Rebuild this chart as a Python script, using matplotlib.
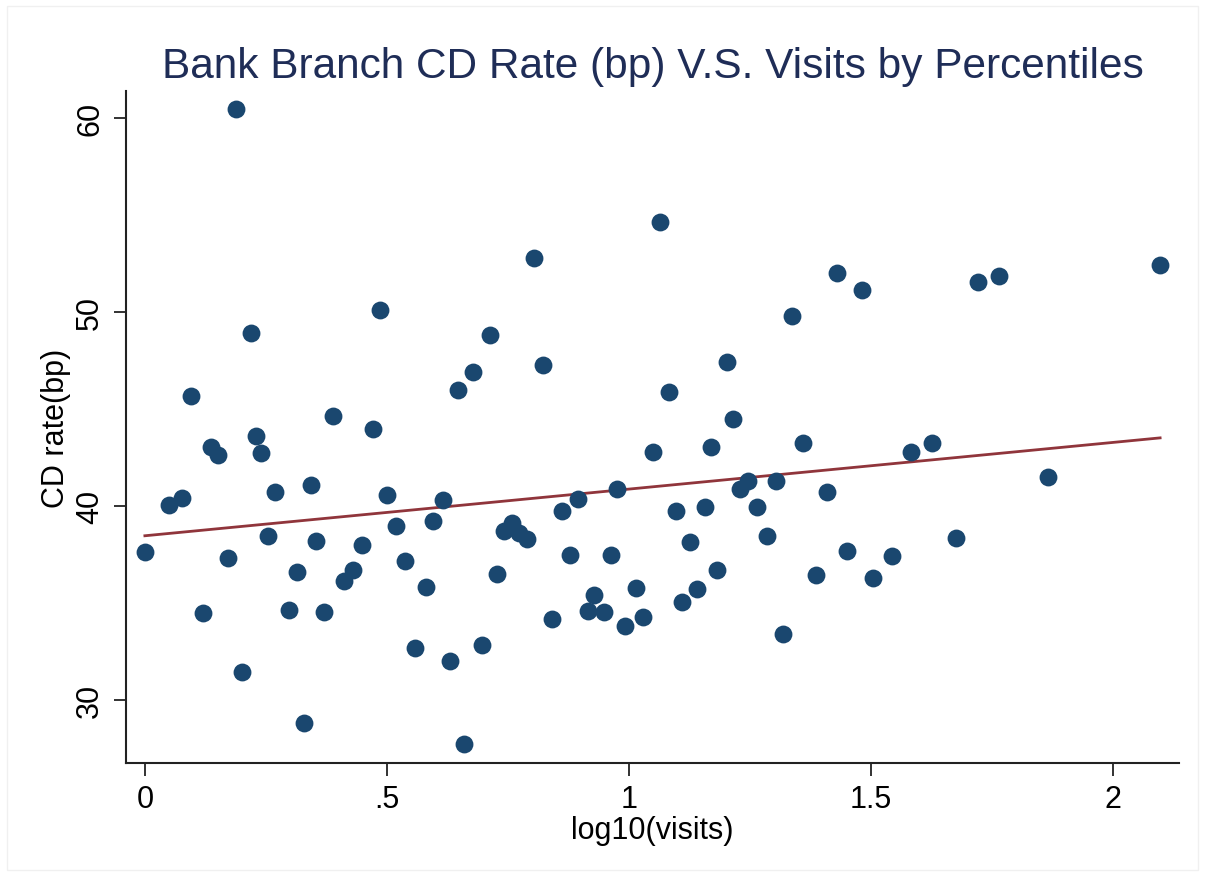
import numpy as np
import matplotlib
matplotlib.use("Agg")
import matplotlib.pyplot as plt
from matplotlib.patches import Rectangle

plt.rcParams['font.family'] = ['Liberation Sans', 'DejaVu Sans']

# percentile bins: mean log10(visits) and mean CD rate (bp)
log_visits = [
    0.000, 0.050, 0.076, 0.095, 0.120, 0.136, 0.151, 0.171, 0.188, 0.200,
    0.219, 0.229, 0.240, 0.254, 0.269, 0.298, 0.314, 0.329, 0.343, 0.353,
    0.370, 0.388, 0.411, 0.430, 0.448, 0.471, 0.486, 0.500, 0.519, 0.537,
    0.558, 0.581, 0.595, 0.616, 0.630, 0.647, 0.659, 0.678, 0.696, 0.713,
    0.727, 0.742, 0.758, 0.773, 0.789, 0.804, 0.822, 0.841, 0.862, 0.878,
    0.895, 0.915, 0.928, 0.948, 0.963, 0.975, 0.992, 1.014, 1.029, 1.050,
    1.064, 1.083, 1.097, 1.110, 1.126, 1.140, 1.157, 1.169, 1.182, 1.202,
    1.215, 1.229, 1.246, 1.264, 1.285, 1.304, 1.318, 1.337, 1.360, 1.386,
    1.409, 1.430, 1.450, 1.481, 1.504, 1.543, 1.583, 1.626, 1.676, 1.721,
    1.764, 1.866, 2.097,
]
cd_rate = [
    37.63, 40.06, 40.42, 45.69, 34.49, 43.06, 42.64, 37.33, 60.48, 31.45,
    48.93, 43.61, 42.74, 38.46, 40.73, 34.64, 36.60, 28.82, 41.09, 38.20,
    34.54, 44.65, 36.14, 36.70, 37.99, 43.98, 50.13, 40.57, 38.97, 37.17,
    32.69, 35.83, 39.23, 40.31, 32.02, 46.00, 27.73, 46.92, 32.84, 48.82,
    36.50, 38.72, 39.13, 38.61, 38.30, 52.80, 47.28, 34.18, 39.75, 37.48,
    40.37, 34.59, 35.42, 34.54, 37.48, 40.89, 33.82, 35.78, 34.28, 42.79,
    54.65, 45.88, 39.75, 35.06, 38.15, 35.73, 39.95, 43.06, 36.70, 47.43,
    44.49, 40.89, 41.30, 39.95, 38.46, 41.30, 33.41, 49.80, 43.26, 36.45,
    40.73, 52.02, 37.68, 51.14, 36.29, 37.43, 42.79, 43.26, 38.35, 51.56,
    51.87, 41.50, 52.44,
]

x_ticks = [0, 0.5, 1, 1.5, 2]
x_ticklabels = ["0", ".5", "1", "1.5", "2"]
y_ticks = [30, 40, 50, 60]

x = np.array(log_visits)
y = np.array(cd_rate)

fig = plt.figure(figsize=(12.05, 8.78), dpi=100)
fig.patch.set_facecolor("white")
# thin light frame around the graph region
fig.add_artist(Rectangle((7 / 1205, 0.008), 1 - 14 / 1205, 1 - 7 / 878 - 0.008,
                         transform=fig.transFigure, fill=False,
                         edgecolor="#f0f0f0", linewidth=1))

ax = fig.add_axes([126 / 1205, 1 - 764 / 878, (1179 - 126) / 1205, (764 - 92) / 878])

ax.scatter(x, y, s=165, color="#1a476f", linewidths=0, zorder=3)

# linear fit over the observed range
b, a = np.polyfit(x, y, 1)
xs = np.array([x.min(), x.max()])
ax.plot(xs, a + b * xs, color="#90353b", linewidth=2.0, zorder=2)

ax.set_xlim(-0.039, 2.136)
ax.set_ylim(26.75, 61.41)
ax.set_xticks(x_ticks)
ax.set_xticklabels(x_ticklabels)
ax.set_yticks(y_ticks)
ax.set_yticklabels([str(t) for t in y_ticks], rotation=90, va="center")

for side in ["top", "right"]:
    ax.spines[side].set_visible(False)
for side in ["left", "bottom"]:
    ax.spines[side].set_linewidth(1.5)
    ax.spines[side].set_color("#222222")
ax.tick_params(axis="both", length=9, width=1.3, color="#222222",
               labelsize=22, pad=6)

ax.set_xlabel("log10(visits)", fontsize=22, labelpad=1)
ax.set_ylabel("CD rate(bp)", fontsize=22, labelpad=3)
ax.set_title("Bank Branch CD Rate (bp) V.S. Visits by Percentiles",
             fontsize=30.5, color="#1f2d57", pad=10)

plt.savefig("out.png", dpi=100)
print("Plot is done.")
